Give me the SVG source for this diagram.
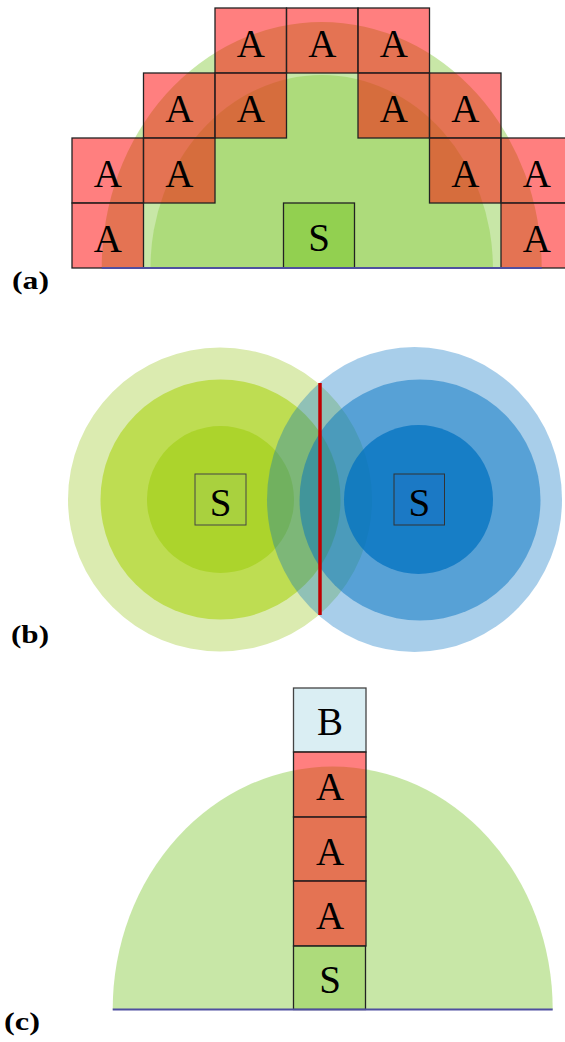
<svg xmlns="http://www.w3.org/2000/svg" width="565" height="1042" viewBox="0 0 565 1042">
  <style>
    .lbl { font-family: "Liberation Serif", "Times New Roman", Times, serif; font-size: 39px; fill: #000; text-anchor: middle; }
    .cap { font-family: "Liberation Serif", "Times New Roman", Times, serif; font-size: 26px; font-weight: bold; fill: #000; }
    .a { fill: #ff0000; fill-opacity: 0.5; stroke: #222; stroke-width: 1.3; }
    .g { fill: #92d050; fill-opacity: 0.5; }
    .base { stroke: #4f4fa0; stroke-width: 2; fill: none; }
    .sq { stroke: #222; stroke-width: 1.3; }
    .bl { fill: #0070c0; }
  </style>
  <rect width="565" height="1042" fill="#ffffff"/>

  <!-- Panel (a) -->
  <g id="panel-a">
    <path class="g" d="M 101.7 268 A 220 246 0 0 1 541.7 268 Z"/>
    <path class="g" d="M 150.5 268 A 171.2 193 0 0 1 492.9 268 Z"/>
    <g id="a-S">
      <rect class="sq" x="283.5" y="203" width="71" height="65" fill="#92d050"/>
      <text class="lbl" x="319" y="250.5">S</text>
    </g>
    <g id="a-A1"><rect class="a" x="215" y="8" width="71.5" height="65"/><text class="lbl" x="250.75" y="56.5">A</text></g>
    <g id="a-A2"><rect class="a" x="286.5" y="8" width="71.5" height="65"/><text class="lbl" x="322.25" y="56.5">A</text></g>
    <g id="a-A3"><rect class="a" x="358" y="8" width="71.5" height="65"/><text class="lbl" x="393.75" y="56.5">A</text></g>
    <g id="a-A4"><rect class="a" x="143.5" y="73" width="71.5" height="65"/><text class="lbl" x="179.25" y="121.5">A</text></g>
    <g id="a-A5"><rect class="a" x="215" y="73" width="71.5" height="65"/><text class="lbl" x="250.75" y="121.5">A</text></g>
    <g id="a-A6"><rect class="a" x="358" y="73" width="71.5" height="65"/><text class="lbl" x="393.75" y="121.5">A</text></g>
    <g id="a-A7"><rect class="a" x="429.5" y="73" width="71.5" height="65"/><text class="lbl" x="465.25" y="121.5">A</text></g>
    <g id="a-A8"><rect class="a" x="72" y="138" width="71.5" height="65"/><text class="lbl" x="107.75" y="186.5">A</text></g>
    <g id="a-A9"><rect class="a" x="143.5" y="138" width="71.5" height="65"/><text class="lbl" x="179.25" y="186.5">A</text></g>
    <g id="a-A10"><rect class="a" x="429.5" y="138" width="71.5" height="65"/><text class="lbl" x="465.25" y="186.5">A</text></g>
    <g id="a-A11"><rect class="a" x="501" y="138" width="71.5" height="65"/><text class="lbl" x="536.75" y="186.5">A</text></g>
    <g id="a-A12"><rect class="a" x="72" y="203" width="71.5" height="65"/><text class="lbl" x="107.75" y="251.5">A</text></g>
    <g id="a-A13"><rect class="a" x="501" y="203" width="71.5" height="65"/><text class="lbl" x="536.75" y="251.5">A</text></g>
    <line class="base" x1="101.7" y1="268" x2="541.7" y2="268"/>
    <text class="cap" x="12" y="289" textLength="37" lengthAdjust="spacingAndGlyphs">(a)</text>
  </g>

  <!-- Panel (b) -->
  <g id="panel-b">
    <g id="b-green">
      <circle cx="220" cy="499.5" r="152" fill="#dbebb0"/>
      <circle cx="220.5" cy="499.5" r="120" fill="#bedd52"/>
      <circle cx="220.5" cy="499.5" r="73.5" fill="#acd42c"/>
      <rect x="195" y="474" width="51" height="51" fill="#a9d13e" stroke="#444" stroke-width="1"/>
      <text class="lbl" x="220.5" y="515.5">S</text>
    </g>
    <g id="b-blue">
      <ellipse class="bl" cx="414.5" cy="499.5" rx="147.5" ry="152.5" fill-opacity="0.34"/>
      <circle class="bl" cx="420" cy="500" r="120.5" fill-opacity="0.48"/>
      <circle class="bl" cx="418.5" cy="499.5" r="74.5" fill-opacity="0.73"/>
      <rect x="394" y="474" width="50.5" height="51" fill="#1b79c5" stroke="#333" stroke-width="1"/>
      <text class="lbl" x="419.3" y="515.5">S</text>
    </g>
    <g id="connectors">
      <line x1="320" y1="383" x2="320" y2="615" stroke="#c00000" stroke-width="3.5"/>
    </g>
    <text class="cap" x="11" y="643" textLength="38" lengthAdjust="spacingAndGlyphs">(b)</text>
  </g>

  <!-- Panel (c) -->
  <g id="panel-c">
    <path class="g" d="M 112.7 1009.5 A 220 243 0 0 1 552.7 1009.5 Z"/>
    <g id="c-B"><rect x="293.5" y="688" width="72.5" height="64" fill="#daeef3" stroke="#444" stroke-width="1.3"/><text class="lbl" x="330" y="735">B</text></g>
    <g id="c-A1"><rect class="a" x="293.5" y="752" width="72.5" height="65"/><text class="lbl" x="330" y="800">A</text></g>
    <g id="c-A2"><rect class="a" x="293.5" y="817" width="72.5" height="64"/><text class="lbl" x="330" y="865">A</text></g>
    <g id="c-A3"><rect class="a" x="293.5" y="881" width="72.5" height="65"/><text class="lbl" x="330" y="929">A</text></g>
    <g id="c-S"><rect class="sq" x="293.5" y="946" width="72" height="63.5" fill="#92d050" fill-opacity="0.5"/><text class="lbl" x="330" y="993">S</text></g>
    <line class="base" x1="112.7" y1="1009.5" x2="552.7" y2="1009.5"/>
    <text class="cap" x="4" y="1030" textLength="36" lengthAdjust="spacingAndGlyphs">(c)</text>
  </g>
</svg>
